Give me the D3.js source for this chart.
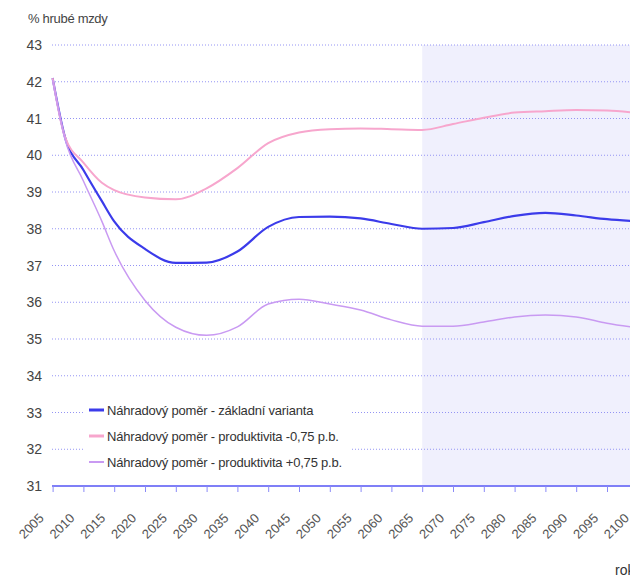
<!DOCTYPE html>
<html>
<head>
<meta charset="utf-8">
<script src="https://cdn.jsdelivr.net/npm/d3@7"></script>
<style>
  body { margin: 0; background: #fff; }
  svg { display: block; font-family: "Liberation Sans", Arial, sans-serif; }
</style>
</head>
<body>
<div class="chart"></div>
<script>
// chart data
var years = [2005, 2007, 2010, 2013, 2015, 2020, 2025, 2030, 2035, 2040, 2045, 2050,
             2055, 2060, 2065, 2070, 2075, 2080, 2085, 2090, 2095, 2100];
var zakladni = [42.1, 40.5, 39.6, 38.75, 38.2, 37.45, 37.07, 37.08, 37.38, 38.05, 38.32, 38.33,
                38.28, 38.13, 38.0, 38.02, 38.18, 38.35, 38.43, 38.36, 38.26, 38.2];
var produktivitaMinus = [42.1, 40.5, 39.8, 39.25, 39.05, 38.85, 38.8, 39.1, 39.65, 40.33, 40.62, 40.71,
                         40.73, 40.71, 40.69, 40.85, 41.02, 41.16, 41.2, 41.23, 41.22, 41.15];
var produktivitaPlus = [42.05, 40.45, 39.3, 38.2, 37.4, 36.05, 35.32, 35.1, 35.33, 35.95, 36.08, 35.95,
                        35.79, 35.52, 35.35, 35.35, 35.46, 35.6, 35.65, 35.6, 35.43, 35.3];
var seriesNames = ["Náhradový poměr - základní varianta",
                   "Náhradový poměr - produktivita -0,75 p.b.",
                   "Náhradový poměr - produktivita +0,75 p.b."];
var xTickYears = d3.range(2005, 2101, 5);
var yTicks = d3.range(31, 44, 1);
var shadeFrom = 2065;

var svgWidth = 630, svgHeight = 576;

var svg = d3.select(".chart").append("svg")
  .attr("width", svgWidth)
  .attr("height", svgHeight);

// scales (plot runs past the right edge of the picture)
var x = d3.scaleLinear().domain([2005, 2100]).range([52.6, 637.8]);
var y = d3.scaleLinear().domain([31, 43]).range([486, 45]);

// shaded projection area
svg.append("rect")
  .attr("x", x(shadeFrom))
  .attr("y", y(43))
  .attr("width", svgWidth - x(shadeFrom))
  .attr("height", y(31) - y(43))
  .attr("fill", "#f0f0fd");

// gridlines
svg.append("g")
  .selectAll("line")
  .data(yTicks.filter(d => d > 31))
  .enter()
  .append("line")
  .attr("x1", 52)
  .attr("x2", svgWidth)
  .attr("y1", d => y(d))
  .attr("y2", d => y(d))
  .attr("stroke", "#9494f4")
  .attr("stroke-width", 1)
  .attr("stroke-dasharray", "1,2");

// y labels
svg.append("g")
  .selectAll("text")
  .data(yTicks)
  .enter()
  .append("text")
  .attr("x", 42)
  .attr("y", d => y(d) + 5)
  .attr("text-anchor", "end")
  .attr("font-size", "14px")
  .attr("fill", "#444")
  .text(d => d);

svg.append("text")
  .attr("x", 28)
  .attr("y", 23)
  .attr("font-size", "13px")
  .attr("fill", "#444")
  .attr("letter-spacing", "-0.3")
  .text("% hrubé mzdy");

// x axis
var xAxis = d3.axisBottom(x)
  .tickValues(xTickYears)
  .tickSize(6)
  .tickFormat("");

var xAxisG = svg.append("g")
  .attr("transform", `translate(0, ${y(31)})`)
  .call(xAxis);
xAxisG.select(".domain").attr("stroke", "#7f7ff7").attr("stroke-width", 2)
  .attr("d", `M52,0H${svgWidth}`);
xAxisG.selectAll(".tick line").attr("stroke", "#8a8af7");

svg.append("g")
  .selectAll("text")
  .data(xTickYears)
  .enter()
  .append("text")
  .attr("transform", d => `translate(${x(d) - 8}, 519) rotate(-45)`)
  .attr("text-anchor", "end")
  .attr("font-size", "13px")
  .attr("fill", "#555")
  .text(d => d);

svg.append("text")
  .attr("x", 615)
  .attr("y", 575)
  .attr("font-size", "14px")
  .attr("fill", "#333")
  .text("rok");

// lines
var line = d3.line()
  .x(d => x(d[0]))
  .y(d => y(d[1]))
  .curve(d3.curveMonotoneX);

var allSeries = [
  { values: zakladni, color: "#3b3bea", width: 2.2, legendWidth: 3 },
  { values: produktivitaMinus, color: "#f7a6cd", width: 2, legendWidth: 3 },
  { values: produktivitaPlus, color: "#c99af2", width: 1.5, legendWidth: 2 }
];

svg.append("g")
  .selectAll("path")
  .data(allSeries)
  .enter()
  .append("path")
  .attr("d", s => line(years.map((yr, i) => [yr, s.values[i]])))
  .attr("fill", "none")
  .attr("stroke", s => s.color)
  .attr("stroke-width", s => s.width);

// legend
var legend = svg.append("g");
legend.append("rect")
  .attr("x", 83)
  .attr("y", 395)
  .attr("width", 269)
  .attr("height", 76)
  .attr("fill", "#fff");

var legendItems = legend.selectAll("g")
  .data(allSeries)
  .enter()
  .append("g")
  .attr("transform", (d, i) => `translate(89, ${410 + i * 26})`);

legendItems.append("line")
  .attr("x1", 0)
  .attr("x2", 15)
  .attr("stroke", d => d.color)
  .attr("stroke-width", d => d.legendWidth);

legendItems.append("text")
  .attr("x", 18)
  .attr("y", 5)
  .attr("font-size", "13px")
  .attr("fill", "#333")
  .attr("letter-spacing", "-0.2")
  .text((d, i) => seriesNames[i]);
</script>
</body>
</html>
